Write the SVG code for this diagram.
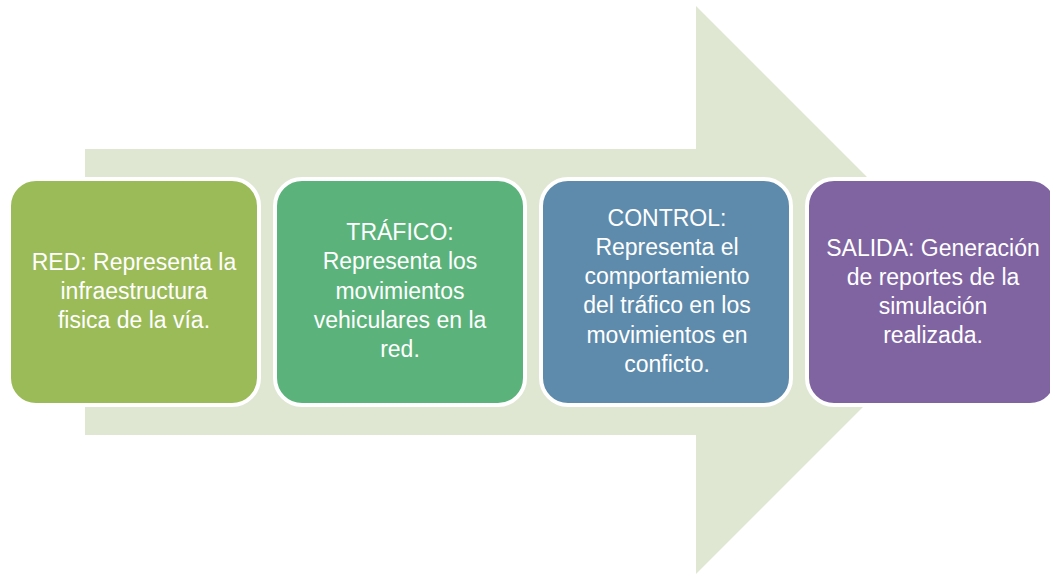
<svg xmlns="http://www.w3.org/2000/svg" width="1050" height="575" viewBox="0 0 1050 575">
<style>
.box{stroke:#FFFFFF;stroke-width:4}
.t{font-family:"Liberation Sans",Arial,sans-serif;font-size:23px;fill:#FFFFFF;text-anchor:middle}
</style>
<rect width="1050" height="575" fill="#FFFFFF"/>
<g id="arrow">
<polygon points="85,149 696,149 696,6 980,290 696,574 696,435 85,435" fill="#DFE7D3"/>
</g>
<g id="connectors"></g>
<g id="red">
<rect class="box" x="9" y="179" width="250" height="226" rx="27" fill="#9BBB59"/>
<text class="t" x="134" y="270">RED: Representa la</text>
<text class="t" x="134" y="299">infraestructura</text>
<text class="t" x="134" y="328">fisica de la vía.</text>
</g>
<g id="trafico">
<rect class="box" x="275" y="179" width="250" height="226" rx="27" fill="#5BB37B"/>
<text class="t" x="400" y="240">TRÁFICO:</text>
<text class="t" x="400" y="269">Representa los</text>
<text class="t" x="400" y="299">movimientos</text>
<text class="t" x="400" y="328">vehiculares en la</text>
<text class="t" x="400" y="357">red.</text>
</g>
<g id="control">
<rect class="box" x="541" y="179" width="250" height="226" rx="27" fill="#5E8BAC"/>
<text class="t" x="667" y="226">CONTROL:</text>
<text class="t" x="667" y="255">Representa el</text>
<text class="t" x="667" y="284">comportamiento</text>
<text class="t" x="667" y="313">del tráfico en los</text>
<text class="t" x="667" y="343">movimientos en</text>
<text class="t" x="667" y="372">conficto.</text>
</g>
<g id="salida">
<rect class="box" x="807" y="179" width="250" height="226" rx="27" fill="#8064A2"/>
<text class="t" x="933" y="256">SALIDA: Generación</text>
<text class="t" x="933" y="285">de reportes de la</text>
<text class="t" x="933" y="314">simulación</text>
<text class="t" x="933" y="343">realizada.</text>
</g>
</svg>
